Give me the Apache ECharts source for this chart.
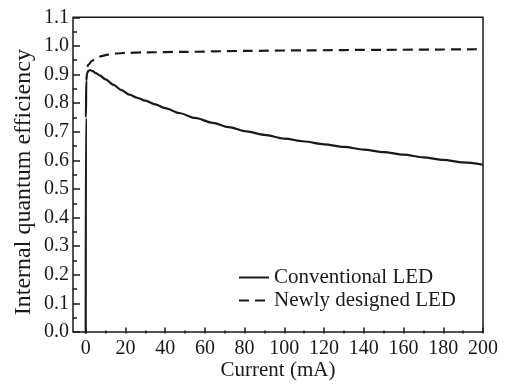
<!DOCTYPE html>
<html>
<head>
<meta charset="utf-8">
<script src="https://cdn.jsdelivr.net/npm/echarts@6/dist/echarts.min.js"></script>
<style>
  html, body { margin: 0; padding: 0; background: #fff; }
  #chart { width: 506px; height: 386px; }
</style>
</head>
<body>
<div id="chart"></div>
<script>
// data: [current mA, efficiency]
const conventionalLED = [
  [0, 0], [0.1, 0.75], [0.3, 0.88], [0.7, 0.905], [1.3, 0.914], [2.2, 0.916],
  [3.5, 0.913], [5, 0.906], [7, 0.898], [10, 0.884], [14, 0.865], [18, 0.847],
  [22, 0.831], [26, 0.82], [30, 0.81], [35, 0.797], [40, 0.784], [47, 0.767],
  [55, 0.75], [64, 0.733], [72, 0.718], [81, 0.703], [90, 0.691], [100, 0.678],
  [110, 0.668], [120, 0.658], [130, 0.649], [140, 0.64], [150, 0.631], [160, 0.622],
  [170, 0.613], [180, 0.604], [190, 0.595], [200, 0.587]
];
const newlyDesignedLED = [
  [0.8, 0.928], [1.5, 0.936], [3, 0.948], [5, 0.957], [8, 0.965], [11, 0.97],
  [15, 0.974], [20, 0.976], [30, 0.978], [50, 0.98], [80, 0.983], [110, 0.985],
  [150, 0.987], [200, 0.989]
];
const seriesNames = ['Conventional LED', 'Newly designed LED'];

const FONT = '"Liberation Serif", "Times New Roman", serif';
const INK = '#1a1a1a';

const chart = echarts.init(document.getElementById('chart'));

const option = {
  animation: false,
  backgroundColor: '#fff',
  grid: [
    // data grid: x = 0 sits a little right of the frame
    { left: 85.7, right: 23, top: 17.3, bottom: 52.5 },
    // frame grid, carries the y ticks and both axis names
    { left: 73, right: 23, top: 17.3, bottom: 52.5, show: true,
      borderColor: INK, borderWidth: 1.5, backgroundColor: 'transparent' }
  ],
  legend: {
    orient: 'vertical',
    left: 233,
    top: 262,
    itemWidth: 30,
    itemHeight: 14,
    itemGap: 2,
    itemStyle: { color: 'transparent', borderColor: 'transparent', opacity: 0 },
    textStyle: { fontFamily: FONT, fontSize: 21, color: INK, lineHeight: 21 },
    data: seriesNames
  },
  xAxis: [
    {
      gridIndex: 0,
      type: 'value',
      min: 0,
      max: 200,
      interval: 20,
      axisLine: { show: false },
      axisTick: { show: true, inside: true, length: 6, lineStyle: { color: INK, width: 1.5 } },
      minorTick: { show: true, splitNumber: 2, length: 3, lineStyle: { color: INK, width: 1.5 } },
      axisLabel: { fontFamily: FONT, fontSize: 20, color: INK, margin: 5 },
      splitLine: { show: false }
    },
    {
      gridIndex: 1,
      type: 'value',
      min: 0,
      max: 1,
      axisLine: { show: false },
      axisTick: { show: false },
      axisLabel: { show: false },
      splitLine: { show: false },
      name: 'Current (mA)',
      nameLocation: 'middle',
      nameGap: 28,
      nameTextStyle: { fontFamily: FONT, fontSize: 21, color: INK }
    }
  ],
  yAxis: [
    {
      gridIndex: 0,
      type: 'value',
      min: 0,
      max: 1.1,
      show: false
    },
    {
      gridIndex: 1,
      type: 'value',
      min: 0,
      max: 1.1,
      interval: 0.1,
      axisLine: { show: false },
      axisTick: { show: true, inside: true, length: 7, lineStyle: { color: INK, width: 1.5 } },
      minorTick: { show: true, splitNumber: 2, length: 4, lineStyle: { color: INK, width: 1.5 } },
      axisLabel: {
        fontFamily: FONT, fontSize: 20, color: INK, margin: 4,
        formatter: (v) => v.toFixed(1)
      },
      splitLine: { show: false },
      name: 'Internal quantum efficiency',
      nameLocation: 'middle',
      nameRotate: 90,
      nameGap: 37,
      nameMoveOverlap: false,
      nameTextStyle: { fontFamily: FONT, fontSize: 24, color: INK, padding: [0, 15, 0, 0] }
    }
  ],
  series: [
    {
      name: seriesNames[0],
      type: 'line',
      xAxisIndex: 0,
      yAxisIndex: 0,
      data: conventionalLED,
      symbol: 'none',
      smooth: 0.3,
      smoothMonotone: 'x',
      lineStyle: { color: INK, width: 2.2 },
      itemStyle: { color: INK }
    },
    {
      name: seriesNames[1],
      type: 'line',
      xAxisIndex: 0,
      yAxisIndex: 0,
      data: newlyDesignedLED,
      symbol: 'none',
      smooth: 0.3,
      smoothMonotone: 'x',
      lineStyle: { color: INK, width: 2.2, type: [10, 6] },
      itemStyle: { color: INK }
    }
  ]
};

chart.setOption(option);
</script>
</body>
</html>
